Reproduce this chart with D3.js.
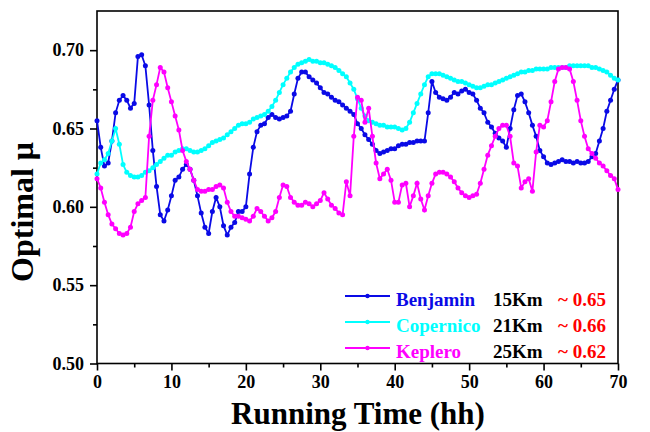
<!DOCTYPE html>
<html>
<head>
<meta charset="utf-8">
<script src="https://cdn.jsdelivr.net/npm/d3@7"></script>
<style>
  html, body { margin: 0; padding: 0; background: #fff; }
  svg { display: block; }
  text { font-family: "Liberation Serif", "Times New Roman", serif; font-weight: bold; }
</style>
</head>
<body>
<svg id="chart" width="650" height="432"></svg>
<script>
// ---- data (time step 0.5 hh, from 0 to 70) ----
const timeStart = 0, timeStep = 0.5;
const xTicks = [0, 10, 20, 30, 40, 50, 60, 70];
const yTicks = [0.50, 0.55, 0.60, 0.65, 0.70];
const seriesNames = ["Benjamin", "Copernico", "Keplero"];
const seriesDistances = ["15Km", "21Km", "25Km"];
const seriesAverages = ["~ 0.65", "~ 0.66", "~ 0.62"];

const benjamin = [
  0.655,0.638,0.626,0.628,0.642,0.660,0.668,0.671,0.668,0.663,
  0.666,0.696,0.697,0.690,0.665,0.636,0.613,0.595,0.591,0.598,
  0.607,0.617,0.619,0.624,0.627,0.624,0.617,0.607,0.596,0.587,
  0.583,0.597,0.606,0.600,0.588,0.582,0.587,0.590,0.597,0.597,
  0.600,0.621,0.638,0.648,0.652,0.653,0.657,0.659,0.657,0.656,
  0.657,0.658,0.661,0.672,0.682,0.686,0.686,0.683,0.681,0.679,
  0.676,0.673,0.672,0.670,0.668,0.667,0.665,0.663,0.661,0.659,
  0.653,0.650,0.646,0.643,0.640,0.636,0.634,0.635,0.636,0.637,
  0.637,0.639,0.640,0.640,0.641,0.641,0.642,0.642,0.642,0.660,
  0.680,0.673,0.670,0.669,0.668,0.670,0.673,0.672,0.674,0.675,
  0.673,0.672,0.668,0.663,0.660,0.654,0.651,0.647,0.644,0.642,
  0.638,0.650,0.662,0.671,0.672,0.667,0.660,0.652,0.645,0.636,
  0.632,0.628,0.627,0.628,0.629,0.630,0.629,0.629,0.628,0.629,
  0.628,0.628,0.629,0.632,0.634,0.642,0.650,0.661,0.668,0.675,
  0.681
];

const copernico = [
  0.621,0.628,0.630,0.634,0.642,0.650,0.640,0.627,0.622,0.620,
  0.619,0.619,0.620,0.622,0.623,0.625,0.627,0.629,0.631,0.633,
  0.633,0.635,0.636,0.637,0.637,0.636,0.635,0.635,0.636,0.637,
  0.639,0.641,0.642,0.643,0.644,0.646,0.648,0.650,0.652,0.653,
  0.653,0.654,0.656,0.657,0.658,0.659,0.661,0.664,0.668,0.673,
  0.678,0.682,0.686,0.689,0.691,0.692,0.693,0.694,0.693,0.693,
  0.692,0.692,0.691,0.690,0.689,0.687,0.685,0.683,0.679,0.675,
  0.669,0.663,0.658,0.655,0.654,0.653,0.652,0.652,0.651,0.651,
  0.651,0.650,0.649,0.650,0.654,0.660,0.666,0.672,0.678,0.683,
  0.685,0.685,0.685,0.684,0.683,0.682,0.681,0.680,0.680,0.679,
  0.678,0.677,0.676,0.676,0.677,0.678,0.678,0.679,0.680,0.681,
  0.682,0.683,0.684,0.685,0.686,0.686,0.687,0.687,0.688,0.688,
  0.688,0.688,0.689,0.689,0.689,0.689,0.689,0.690,0.690,0.690,
  0.690,0.690,0.690,0.689,0.689,0.688,0.687,0.686,0.684,0.682,
  0.681
];

const keplero = [
  0.618,0.612,0.603,0.595,0.589,0.586,0.583,0.582,0.583,0.587,
  0.597,0.602,0.604,0.606,0.645,0.668,0.678,0.689,0.686,0.676,
  0.667,0.658,0.649,0.636,0.629,0.624,0.617,0.611,0.610,0.610,
  0.611,0.611,0.613,0.614,0.612,0.603,0.597,0.594,0.594,0.593,
  0.592,0.591,0.594,0.599,0.597,0.594,0.591,0.593,0.597,0.606,
  0.614,0.613,0.606,0.603,0.601,0.601,0.603,0.602,0.600,0.602,
  0.604,0.609,0.605,0.601,0.599,0.596,0.595,0.616,0.607,0.645,
  0.670,0.668,0.654,0.663,0.645,0.628,0.618,0.621,0.624,0.617,
  0.603,0.603,0.614,0.615,0.600,0.607,0.615,0.605,0.598,0.607,
  0.615,0.621,0.622,0.622,0.621,0.619,0.616,0.612,0.609,0.607,
  0.606,0.607,0.608,0.615,0.624,0.633,0.639,0.645,0.650,0.652,
  0.652,0.645,0.628,0.626,0.612,0.616,0.618,0.610,0.635,0.652,
  0.651,0.655,0.667,0.680,0.688,0.689,0.689,0.688,0.680,0.668,
  0.655,0.645,0.637,0.634,0.631,0.628,0.626,0.623,0.620,0.618,
  0.611
];

const seriesValues = [benjamin, copernico, keplero];
const seriesColors = ["#0a0ae6", "#00ffff", "#ff00ff"];

// ---- layout ----
const svg = d3.select("#chart");
const L = 97, R = 618, T = 11, B = 363.5;

const x = d3.scaleLinear().domain([0, 70]).range([L, R]);
const y = d3.scaleLinear().domain([0.5, 0.725]).range([B, T]);

// frame
svg.append("rect").attr("x", L).attr("y", T).attr("width", R - L).attr("height", B - T)
  .attr("fill", "none").attr("stroke", "#000").attr("stroke-width", 1.6);

// series
const plot = svg.append("g");
seriesValues.forEach((vals, i) => {
  const pts = vals.map((v, k) => [timeStart + k * timeStep, v]);
  const line = d3.line().x(d => x(d[0])).y(d => y(d[1]));
  plot.append("path").datum(pts).attr("d", line).attr("fill", "none")
    .attr("stroke", seriesColors[i]).attr("stroke-width", 1.8);
  plot.selectAll(null).data(pts).enter().append("circle")
    .attr("cx", d => x(d[0])).attr("cy", d => y(d[1])).attr("r", 2.5)
    .attr("fill", seriesColors[i]);
});

// axes
const xAxis = d3.axisBottom(x).tickValues(xTicks).tickFormat(d3.format("d"))
  .tickSize(7).tickPadding(5);
const gx = svg.append("g").attr("transform", `translate(0,${B})`).call(xAxis);
gx.select(".domain").remove();
gx.selectAll("line").attr("stroke", "#000").attr("stroke-width", 1.6);
gx.selectAll("text").attr("font-size", 18).attr("fill", "#000")
  .style("font-family", '"Liberation Serif", serif').style("font-weight", "bold");

const xMinor = d3.axisBottom(x).tickValues([5, 15, 25, 35, 45, 55, 65]).tickSize(4).tickFormat("");
const gxm = svg.append("g").attr("transform", `translate(0,${B})`).call(xMinor);
gxm.select(".domain").remove();
gxm.selectAll("line").attr("stroke", "#000").attr("stroke-width", 1.6);

const yAxis = d3.axisLeft(y).tickValues(yTicks).tickFormat(d3.format(".2f"))
  .tickSize(7).tickPadding(6);
const gy = svg.append("g").attr("transform", `translate(${L},0)`).call(yAxis);
gy.select(".domain").remove();
gy.selectAll("line").attr("stroke", "#000").attr("stroke-width", 1.6);
gy.selectAll("text").attr("font-size", 18).attr("fill", "#000")
  .style("font-family", '"Liberation Serif", serif').style("font-weight", "bold");

const yMinor = d3.axisLeft(y).tickValues([0.525, 0.575, 0.625, 0.675]).tickSize(4).tickFormat("");
const gym = svg.append("g").attr("transform", `translate(${L},0)`).call(yMinor);
gym.select(".domain").remove();
gym.selectAll("line").attr("stroke", "#000").attr("stroke-width", 1.6);

// axis titles
svg.append("text").attr("x", 358).attr("y", 424).attr("text-anchor", "middle")
  .attr("font-size", 31).attr("fill", "#000").text("Running Time (hh)");
svg.append("text").attr("transform", "translate(33,212) rotate(-90)")
  .attr("text-anchor", "middle").attr("font-size", 32).attr("fill", "#000").text("Optimal μ");

// legend
const legY = [296, 322, 348];
seriesNames.forEach((name, i) => {
  const g = svg.append("g");
  g.append("line").attr("x1", 345).attr("x2", 390).attr("y1", legY[i]).attr("y2", legY[i])
    .attr("stroke", seriesColors[i]).attr("stroke-width", 2);
  g.append("circle").attr("cx", 367.5).attr("cy", legY[i]).attr("r", 2.2).attr("fill", seriesColors[i]);
  g.append("text").attr("x", 396).attr("y", legY[i] + 10).attr("font-size", 19)
    .attr("fill", seriesColors[i]).text(name);
  g.append("text").attr("x", 493).attr("y", legY[i] + 10).attr("font-size", 19)
    .attr("fill", "#000").text(seriesDistances[i]);
  g.append("text").attr("x", 558).attr("y", legY[i] + 10).attr("font-size", 19)
    .attr("fill", "#ff0000").text(seriesAverages[i]);
});
</script>
</body>
</html>
